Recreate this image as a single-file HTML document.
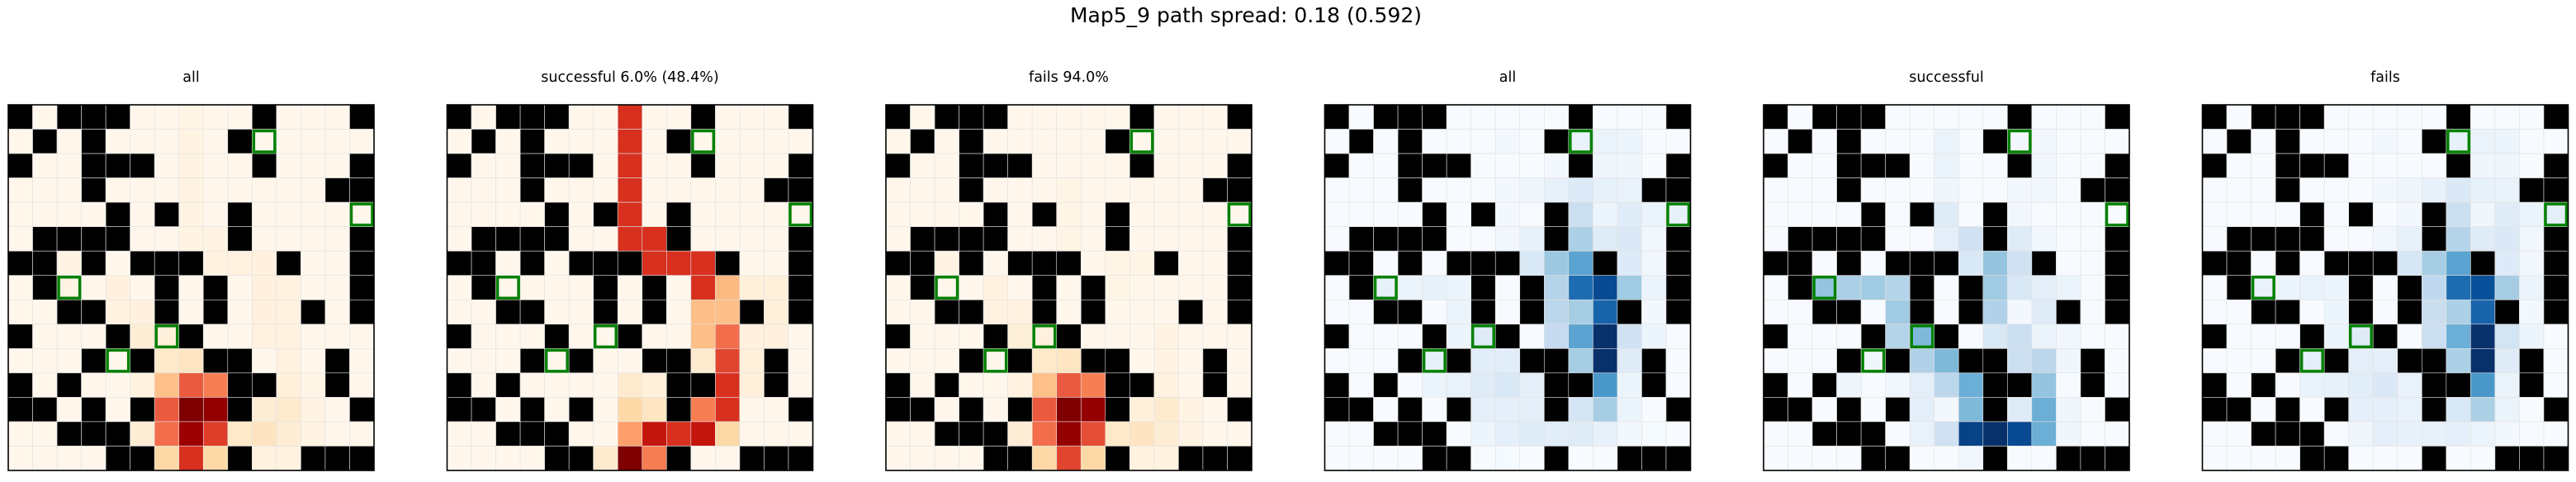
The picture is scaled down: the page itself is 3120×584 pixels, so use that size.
<!DOCTYPE html>
<html><head><meta charset="utf-8">
<style>
html,body{margin:0;padding:0;background:#fff;}
body{width:3120px;height:580px;overflow:hidden;font-family:"DejaVu Sans","Liberation Sans",sans-serif;}
</style></head>
<body>
<svg id="fig" width="3120" height="580" xmlns="http://www.w3.org/2000/svg">
<text x="1509" y="27" font-size="25" text-anchor="middle" font-family="DejaVu Sans, sans-serif" fill="#000">Map5_9 path spread: 0.18 (0.592)</text>
</svg>
<script>
const obstacleRows = [
"B.BBB.....B...B",
".B.B.....B.....",
"B..BBB....B...B",
"...B.........BB",
"....B.B..B.....",
".BBBB....B....B",
"BB.B.BBB...B..B",
".B....B.B.....B",
"..BB..B.B...B.B",
"B...B..B.......",
"...B.B..BB...B.",
"B.B......BB..B.",
"BB.B.B...B....B",
"..BBB..........",
"....BB...B..BBB"
];
const goals = [[1,10],[4,14],[7,2],[9,6],[10,4]];
const titles = ["all","successful 6.0% (48.4%)","fails 94.0%","all","successful","fails"];
const cmaps = ["OrRd","OrRd","OrRd","Blues","Blues","Blues"];
// sparse heat values: [row, col, value]
const heatAll = [[0,7,0.02],[1,7,0.03],[2,7,0.03],[3,7,0.03],[4,7,0.03],[5,7,0.03],[5,8,0.03],
[6,2,0.03],[6,8,0.04],[6,9,0.04],[6,10,0.05],[7,2,0.03],[7,4,0.05],[7,10,0.05],[7,11,0.04],
[8,4,0.04],[8,5,0.05],[8,10,0.05],[8,11,0.04],[9,5,0.08],[9,6,0.06],[9,10,0.04],[9,11,0.04],
[10,6,0.12],[10,7,0.14],[10,11,0.04],[11,5,0.04],[11,6,0.35],[11,7,0.65],[11,8,0.55],[11,11,0.06],[11,12,0.02],
[12,6,0.65],[12,7,1.0],[12,8,0.95],[12,10,0.08],[12,11,0.1],[12,12,0.03],
[13,5,0.08],[13,6,0.6],[13,7,0.93],[13,8,0.72],[13,9,0.12],[13,10,0.15],[13,11,0.08],[13,12,0.03],
[14,6,0.22],[14,7,0.75],[14,8,0.22],[14,10,0.04],[14,11,0.04]];
const heatSuccess = [[0,7,0.75],[1,7,0.75],[2,7,0.75],[3,7,0.75],[4,7,0.75],[5,7,0.75],[5,8,0.75],
[6,8,0.75],[6,9,0.75],[6,10,0.75],[7,10,0.75],[7,11,0.38],[7,12,0.06],[7,13,0.06],
[8,10,0.36],[8,11,0.36],[8,13,0.06],[9,10,0.36],[9,11,0.6],[9,12,0.05],[9,13,0.05],
[10,10,0.1],[10,11,0.7],[10,12,0.06],[11,7,0.1],[11,8,0.06],[11,11,0.75],[11,12,0.06],
[12,7,0.22],[12,8,0.14],[12,10,0.55],[12,11,0.75],
[13,7,0.45],[13,8,0.82],[13,9,0.75],[13,10,0.82],[13,11,0.22],[14,6,0.1],[14,7,1.0],[14,8,0.55]];
const heatFails = [[3,7,0.02],[4,7,0.02],[5,7,0.02],[6,2,0.03],[6,9,0.02],[6,10,0.02],
[7,4,0.04],[7,9,0.02],[8,4,0.04],[8,5,0.04],[9,5,0.07],[9,6,0.05],[9,11,0.03],
[10,6,0.12],[10,7,0.14],[10,11,0.03],[11,5,0.04],[11,6,0.35],[11,7,0.65],[11,8,0.55],[11,11,0.04],
[12,6,0.65],[12,7,1.0],[12,8,0.95],[12,10,0.06],[12,11,0.1],[12,12,0.03],
[13,5,0.08],[13,6,0.6],[13,7,0.95],[13,8,0.68],[13,9,0.12],[13,10,0.15],[13,11,0.08],[13,12,0.03],
[14,6,0.22],[14,7,0.7],[14,8,0.22],[14,10,0.04],[14,11,0.04]];
const blueAll = [[1,7,0.02],[1,10,0.07],[1,11,0.06],[1,12,0.05],[2,9,0.02],[2,11,0.04],[2,12,0.04],
[3,7,0.02],[3,8,0.04],[3,9,0.08],[3,10,0.13],[3,11,0.08],[3,12,0.07],
[4,7,0.02],[4,10,0.22],[4,11,0.05],[4,12,0.12],[4,13,0.06],[4,14,0.08],
[5,7,0.03],[5,8,0.08],[5,10,0.33],[5,11,0.12],[5,12,0.14],[5,13,0.03],
[6,8,0.15],[6,9,0.38],[6,10,0.55],[6,12,0.13],[6,13,0.03],
[7,2,0.08],[7,3,0.06],[7,4,0.08],[7,5,0.05],[7,9,0.3],[7,10,0.77],[7,11,0.9],[7,12,0.37],[7,13,0.06],
[8,5,0.06],[8,9,0.28],[8,10,0.35],[8,11,0.8],[8,13,0.02],
[9,5,0.05],[9,6,0.12],[9,9,0.25],[9,10,0.55],[9,11,1.0],[9,12,0.2],[9,13,0.05],
[10,4,0.08],[10,6,0.11],[10,7,0.11],[10,10,0.35],[10,11,1.0],[10,12,0.12],
[11,4,0.06],[11,5,0.07],[11,6,0.12],[11,7,0.15],[11,8,0.09],[11,11,0.6],[11,12,0.05],
[12,6,0.09],[12,7,0.09],[12,8,0.09],[12,10,0.17],[12,11,0.35],[12,12,0.06],
[13,6,0.05],[13,7,0.09],[13,8,0.12],[13,9,0.11],[13,10,0.12],[13,11,0.08],[13,12,0.02],[13,13,0.01],[14,7,0.01]];
const blueSuccess = [[1,7,0.06],[1,10,0.03],[1,11,0.03],[2,7,0.06],[2,11,0.03],[3,7,0.04],[3,10,0.03],[3,11,0.03],
[4,7,0.12],[4,10,0.03],[5,7,0.1],[5,8,0.2],[5,10,0.12],[5,11,0.03],[6,8,0.15],[6,9,0.4],[6,10,0.2],
[7,2,0.4],[7,3,0.33],[7,4,0.37],[7,5,0.3],[7,9,0.37],[7,10,0.15],[7,11,0.1],[7,12,0.06],
[8,5,0.37],[8,9,0.32],[8,10,0.02],[8,11,0.12],[9,5,0.3],[9,6,0.45],[9,9,0.15],[9,10,0.22],[9,11,0.06],[9,12,0.03],
[10,4,0.04],[10,6,0.32],[10,7,0.45],[10,10,0.22],[10,11,0.28],[10,12,0.04],
[11,3,0.04],[11,5,0.03],[11,6,0.1],[11,7,0.28],[11,8,0.5],[11,11,0.4],
[12,6,0.1],[12,7,0.03],[12,8,0.45],[12,10,0.12],[12,11,0.5],[12,12,0.04],
[13,6,0.07],[13,7,0.2],[13,8,0.93],[13,9,1.0],[13,10,0.9],[13,11,0.5],[13,12,0.04],[14,8,0.03]];
const blueFails = [[1,7,0.02],[1,10,0.08],[1,11,0.06],[1,12,0.05],[2,11,0.04],[2,12,0.04],
[3,7,0.02],[3,8,0.04],[3,9,0.08],[3,10,0.14],[3,11,0.08],[3,12,0.07],
[4,8,0.02],[4,10,0.22],[4,11,0.04],[4,12,0.12],[4,13,0.06],[4,14,0.1],
[5,7,0.03],[5,8,0.08],[5,10,0.3],[5,11,0.12],[5,12,0.14],[5,13,0.03],
[6,8,0.16],[6,9,0.35],[6,10,0.55],[6,12,0.13],[6,13,0.03],
[7,2,0.07],[7,3,0.05],[7,4,0.07],[7,5,0.05],[7,9,0.27],[7,10,0.77],[7,11,0.88],[7,12,0.35],[7,13,0.06],
[8,5,0.05],[8,9,0.23],[8,10,0.33],[8,11,0.8],[8,13,0.02],
[9,5,0.05],[9,6,0.12],[9,9,0.22],[9,10,0.5],[9,11,1.0],[9,12,0.18],[9,13,0.05],
[10,4,0.09],[10,6,0.1],[10,7,0.09],[10,10,0.33],[10,11,1.0],[10,12,0.12],
[11,4,0.07],[11,5,0.08],[11,6,0.11],[11,7,0.14],[11,8,0.07],[11,11,0.6],[11,12,0.06],
[12,6,0.09],[12,7,0.09],[12,8,0.07],[12,10,0.15],[12,11,0.33],[12,12,0.06],
[13,6,0.04],[13,7,0.09],[13,8,0.08],[13,9,0.08],[13,10,0.09],[13,11,0.05],[13,12,0.02]];
const panelData = [heatAll, heatSuccess, heatFails, blueAll, blueSuccess, blueFails];

const OrRd = ["#fff7ec","#fee8c8","#fdd49e","#fdbb84","#fc8d59","#ef6548","#d7301f","#b30000","#7f0000"];
const Blues = ["#f7fbff","#deebf7","#c6dbef","#9ecae1","#6baed6","#4292c6","#2171b5","#08519c","#08306b"];
function hex2rgb(h){return [1,3,5].map(i=>parseInt(h.substr(i,2),16));}
function cmap(name,v){
  const s = name==="OrRd"?OrRd:Blues;
  v=Math.max(0,Math.min(1,v));
  const p=v*(s.length-1), i=Math.min(Math.floor(p),s.length-2), f=p-i;
  const a=hex2rgb(s[i]), b=hex2rgb(s[i+1]);
  return "rgb("+a.map((x,k)=>Math.round(x+(b[k]-x)*f)).join(",")+")";
}
const NS="http://www.w3.org/2000/svg";
const svg=document.getElementById("fig");
const N=15, panelW=443, top0=127, left0=10, step=531.5;
function xScale(p,c){return left0+p*step+c*panelW/N;}
function yScale(r){return top0+r*panelW/N;}
for(let p=0;p<6;p++){
  const g=document.createElementNS(NS,"g");
  
  
  svg.appendChild(g);
  const t=document.createElementNS(NS,"text");
  
  
  t.setAttribute("x",left0+p*step+panelW/2);t.setAttribute("y",99);
  t.setAttribute("font-size","17.5");t.setAttribute("text-anchor","middle");
  t.setAttribute("font-family","DejaVu Sans, sans-serif");
  t.textContent=titles[p];g.appendChild(t);
  const vals={};
  panelData[p].forEach(d=>{vals[d[0]+","+d[1]]=d[2];});
  const cs=panelW/N;
  for(let r=0;r<N;r++)for(let c=0;c<N;c++){
    const rect=document.createElementNS(NS,"rect");
    
    
    rect.setAttribute("x",xScale(p,c));rect.setAttribute("y",yScale(r));
    rect.setAttribute("width",cs);rect.setAttribute("height",cs);
    const blocked=obstacleRows[r][c]==="B";
    rect.setAttribute("fill",blocked?"#000":cmap(cmaps[p],vals[r+","+c]||0));
    rect.setAttribute("stroke","#e2e2e2");rect.setAttribute("stroke-width","0.6");
    g.appendChild(rect);
  }
  goals.forEach(([r,c])=>{
    const gr=document.createElementNS(NS,"rect");
    
    
    gr.setAttribute("x",xScale(p,c)+2);gr.setAttribute("y",yScale(r)+2);
    gr.setAttribute("width",cs-4);gr.setAttribute("height",cs-4);
    gr.setAttribute("fill","none");gr.setAttribute("stroke","#008000");gr.setAttribute("stroke-width","3.5");
    g.appendChild(gr);
  });
  const fr=document.createElementNS(NS,"rect");
  
  
  fr.setAttribute("x",xScale(p,0));fr.setAttribute("y",top0);
  fr.setAttribute("width",panelW);fr.setAttribute("height",panelW);
  fr.setAttribute("fill","none");fr.setAttribute("stroke","#000");fr.setAttribute("stroke-width","1.6");
  g.appendChild(fr);
}
</script>
</body></html>
